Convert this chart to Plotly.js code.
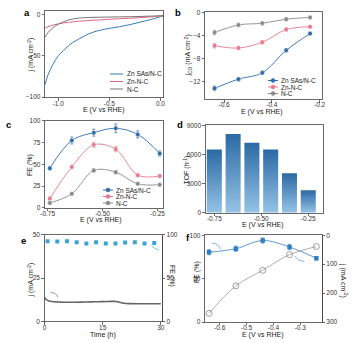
<!DOCTYPE html>
<html><head><meta charset="utf-8">
<script src="https://cdn.plot.ly/plotly-3.0.1.min.js"></script>
<style>html,body{margin:0;padding:0;background:#fff;}#chart{width:355px;height:343px;}</style>
</head><body><div id="chart"></div>
<script>
// ---------- data ----------
const seriesNames = ['Zn SAs/N-C', 'Zn-N-C', 'N-C'];
// panel a: LSV
const E_a = [-1.13,-1.10,-1.05,-1.00,-0.95,-0.90,-0.85,-0.80,-0.70,-0.60,-0.50,-0.40,-0.30,-0.20,-0.10,0.00,0.03];
const jA_sas = [-85,-73,-60,-50,-44,-38,-33.5,-30,-23.5,-19.5,-17,-15,-12.5,-9.5,-6.5,-3,-2];
const jA_znnc = [-16.5,-15,-13,-11.5,-10.5,-9.7,-9,-8.4,-7.5,-6.8,-6,-5.3,-4.8,-4,-3.2,-2.2,-1.8];
const jA_nc = [-27.5,-22,-16,-12,-9,-6.8,-5.5,-4.6,-3.8,-3.5,-3.3,-3.1,-2.9,-2.6,-2.2,-1.6,-1.3];
// panel b: jCO
const E_b = [-0.64,-0.54,-0.44,-0.34,-0.24];
const jco_sas = [-13.2,-11.6,-10.5,-6.6,-3.7];
const jco_znnc = [-5.8,-6.2,-5.2,-3.0,-2.5];
const jco_nc = [-3.5,-2.2,-1.9,-1.2,-0.9];
const jco_err = [0.4,0.3,0.3,0.3,0.2];
// panel c: FE
const E_c = [-0.74,-0.64,-0.54,-0.44,-0.34,-0.24];
const fe_sas = [45.5,77.5,86.5,91.5,84.5,62.5];
const fe_znnc = [10.5,47,72.5,67.5,37.5,36.5];
const fe_nc = [5.5,16,43,41,27.5,26.5];
const fe_err_sas = [2,4,4,5,4,3];
const fe_err_znnc = [2,2,3,3,2,2];
const fe_err_nc = [1,1,2,2,1,1];
// panel d: TOF
const E_d = [-0.75,-0.65,-0.55,-0.45,-0.35,-0.25];
const tof = [6500,8100,7200,6500,4050,2300];
// panel e: stability
const t_e = [0,0.3,0.7,1,1.5,2,3,4,5,6,8,10,12,14,16,17,18,18.5,19,19.5,20,20.5,21,22,24,26,28,30];
const j_e = [14,13,12.3,12,11.7,11.5,11.3,11.2,11.1,11.1,11.1,11.2,11.3,11.4,11.5,11.6,11.6,11.5,11.3,11,10.7,10.5,10.4,10.3,10.2,10.2,10.2,10.2];
const tFE_e = [0.8,3.3,5.8,8.3,10.8,13.3,15.8,18.3,20.8,23.3,25.8,28.3];
const FE_e = [92.5,92.3,92.5,91.2,89.8,91.3,90,89.8,91,91.2,90,90.4];
// panel f
const E_f = [-0.64,-0.54,-0.44,-0.34,-0.24];
const FE_f = [80.5,84.5,94,86.5,73.5];
const FE_f_err = [3,3,3,3,2];
const j_f = [270,175,121,67,39];

// ---------- styles ----------
const F = 'Liberation Sans, Arial, sans-serif';
const W = 355, H = 343;
const px = v => v / W, py = v => 1 - v / H;
const colA = ['#3C7BB6', '#E2677E', '#757575'];
const colB = ['#2E6BAA', '#E8798C', '#8A8A8A'];

const axBase = {showline:true, linecolor:'#444', linewidth:0.8, mirror:true, ticks:'outside', ticklen:2.5,
  tickwidth:0.8, tickcolor:'#444', showgrid:false, zeroline:false, fixedrange:true,
  tickfont:{size:6.5, color:'#333', family:F}};
const ax = o => Object.assign({}, axBase, o);
const xax = o => Object.assign({}, axBase, {ticklabelstandoff:-3}, o);

const traces = [];
// a
[jA_sas, jA_znnc, jA_nc].forEach((ys, i) => traces.push({x:E_a, y:ys, xaxis:'x', yaxis:'y', mode:'lines',
  line:{color:colA[i], width:1, shape:'spline', smoothing:1}, hoverinfo:'skip'}));
// b
[jco_sas, jco_znnc, jco_nc].forEach((ys, i) => traces.push({x:E_b, y:ys, xaxis:'x2', yaxis:'y2', mode:'lines+markers',
  line:{color:colB[i], width:0.9, shape:'spline', smoothing:1}, marker:{size:4.5, color:colB[i], line:{color:'#fff', width:0.4}},
  error_y:{type:'data', array:jco_err, color:colB[i], thickness:0.7, width:1.5}, hoverinfo:'skip'}));
// c
const feErr = [fe_err_sas, fe_err_znnc, fe_err_nc];
[fe_sas, fe_znnc, fe_nc].forEach((ys, i) => traces.push({x:E_c, y:ys, xaxis:'x3', yaxis:'y3', mode:'lines+markers',
  line:{color:colB[i], width:0.9, shape:'spline', smoothing:1}, marker:{size:4.5, color:colB[i], line:{color:'#fff', width:0.4}},
  error_y:{type:'data', array:feErr[i], color:colB[i], thickness:0.7, width:1.5}, hoverinfo:'skip'}));
// d bars (gradient filled)
const bw = 0.08;
E_d.forEach((c, i) => traces.push({x:[c-bw/2, c-bw/2, c+bw/2, c+bw/2, c-bw/2], y:[0, tof[i], tof[i], 0, 0],
  xaxis:'x4', yaxis:'y4', mode:'lines', fill:'toself', line:{width:0, color:'rgba(0,0,0,0)'},
  fillgradient:{type:'vertical', colorscale:[[0,'#95C3E5'],[1,'#2B69A5']]}, hoverinfo:'skip'}));
// e
traces.push({x:t_e, y:j_e, xaxis:'x5', yaxis:'y5', mode:'lines', line:{color:'#666', width:1.6, shape:'spline'}, hoverinfo:'skip'});
traces.push({x:tFE_e, y:FE_e, xaxis:'x5', yaxis:'y6', mode:'markers', marker:{symbol:'square', size:4, color:'#3BA3D3'}, hoverinfo:'skip'});
// f
traces.push({x:E_f, y:FE_f, xaxis:'x6', yaxis:'y7', mode:'lines+markers', line:{color:'#4A90C8', width:0.9, shape:'spline', smoothing:1},
  marker:{symbol:'square', size:4.5, color:'#2F7FC1'}, error_y:{type:'data', array:FE_f_err, color:'#2F7FC1', thickness:0.7, width:1.5}, hoverinfo:'skip'});
traces.push({x:E_f, y:j_f, xaxis:'x6', yaxis:'y8', mode:'lines+markers', line:{color:'#999', width:0.8, shape:'spline', smoothing:1},
  marker:{symbol:'circle-open', size:6, color:'#888', line:{width:0.8}}, hoverinfo:'skip'});

// ---------- annotations & shapes ----------
const ann = [], shapes = [];
const txt = (x, y, t, o) => ann.push(Object.assign({xref:'paper', yref:'paper', x:px(x), y:py(y), text:t, showarrow:false,
  font:{size:7, color:'#222', family:F}, xanchor:'center', yanchor:'middle'}, o || {}));
// panel letters
[['a',27,13],['b',178,13],['c',8,124],['d',180,125],['e',23,240],['f',187.5,237]].forEach(p =>
  txt(p[1], p[2], '<b>' + p[0] + '</b>', {font:{size:9.5, color:'#000', family:F}}));
// axis titles
txt(104, 109.5, 'E (V vs RHE)');
txt(31.5, 55, 'j (mA cm<sup>-2</sup>)', {textangle:-90});
txt(262, 112, 'E (V vs RHE)');
txt(188.5, 55, 'j<sub>CO</sub> (mA cm<sup>-2</sup>)', {textangle:-90});
txt(101, 220, 'E (V vs RHE)');
txt(30, 165, 'FE (%)', {textangle:-90});
txt(263, 225, 'E (V vs RHE)');
txt(186.5, 170, 'TOF (h<sup>-1</sup>)', {textangle:-90});
txt(103, 334.5, 'Time (h)');
txt(30.5, 280, 'j (mA cm<sup>-2</sup>)', {textangle:-90});
txt(172, 276, 'FE (%)', {textangle:90});
txt(263, 335, 'E (V vs RHE)');
txt(197, 272, 'FE (%)', {textangle:-90});
txt(344, 280, 'j (mA cm<sup>-2</sup>)', {textangle:90});
// manual legends
const legend = (x0, x1, xt, rows, cols, withMarker) => rows.forEach((ry, i) => {
  shapes.push({type:'line', xref:'paper', yref:'paper', x0:px(x0), x1:px(x1), y0:py(ry), y1:py(ry), line:{color:cols[i], width:1}});
  if (withMarker) shapes.push({type:'circle', xref:'paper', yref:'paper', xsizemode:'pixel', ysizemode:'pixel',
    xanchor:px((x0+x1)/2), yanchor:py(ry), x0:-2, x1:2, y0:-2, y1:2, fillcolor:cols[i], line:{color:cols[i], width:0.5}});
  txt(xt, ry, seriesNames[i], {xanchor:'left', font:{size:6.5, color:'#222', family:F}});
});
legend(110, 123, 124.5, [74, 81.5, 89], colA, false);
legend(268, 278, 279, [80.5, 87, 93.5], colB, true);
legend(103, 113, 114, [190, 196.5, 203], colB, true);
// small curved pointer arrows
shapes.push({type:'path', xref:'x5', yref:'y5', path:'M 1.6 16.8 Q 3.2 16.5 3.4 14', line:{color:'#666', width:0.7}});
shapes.push({type:'path', xref:'x5', yref:'y6', path:'M 27.6 88 Q 28 84 29.6 82.5', line:{color:'#3BA3D3', width:0.7}});
shapes.push({type:'path', xref:'x6', yref:'y7', path:'M -0.63 91 Q -0.605 91 -0.597 84', line:{color:'#4A90C8', width:0.7}});
shapes.push({type:'path', xref:'x6', yref:'y8', path:'M -0.32 72 Q -0.31 88 -0.285 90', line:{color:'#4A90C8', width:0.7}});

const layout = {
  width:W, height:H, margin:{l:0, r:0, t:0, b:0}, paper_bgcolor:'#fff', plot_bgcolor:'rgba(0,0,0,0)',
  showlegend:false, font:{family:F, size:7, color:'#222'},
  xaxis: xax({domain:[px(45),px(163.5)], range:[-1.13,0.03], tickvals:[-1,-0.5,0], ticktext:['-1.0','-0.5','0.0'], anchor:'y'}),
  yaxis: ax({domain:[py(97.5),py(11)], range:[-100.5,4], tickvals:[-100,-50,0], anchor:'x'}),
  xaxis2: xax({domain:[px(205),px(322)], range:[-0.68,-0.19], tickvals:[-0.6,-0.4,-0.2], ticktext:['-0.6','-0.4','-0.2'], anchor:'y2'}),
  yaxis2: ax({domain:[py(99.3),py(11.7)], range:[-15.1,0.1], tickvals:[-12,-8,-4,0], anchor:'x2'}),
  xaxis3: xax({domain:[px(45),px(163)], range:[-0.762,-0.225], tickvals:[-0.75,-0.5,-0.25], ticktext:['-0.75','-0.50','-0.25'], anchor:'y3'}),
  yaxis3: ax({domain:[py(207.7),py(120.5)], range:[0,100.5], tickvals:[0,25,50,75,100], anchor:'x3'}),
  xaxis4: xax({domain:[px(205.7),px(322.7)], range:[-0.796,-0.173], tickvals:[-0.75,-0.5,-0.25], ticktext:['-0.75','-0.50','-0.25'], anchor:'y4'}),
  yaxis4: ax({domain:[py(212.7),py(125.3)], range:[0,9000], tickvals:[0,3000,6000,9000], anchor:'x4'}),
  xaxis5: xax({domain:[px(44.5),px(162)], range:[0,30.3], tickvals:[0,15,30], anchor:'y5'}),
  yaxis5: ax({domain:[py(321.5),py(234.7)], range:[0,50], tickvals:[0,25,50], anchor:'x5'}),
  yaxis6: ax({overlaying:'y5', side:'right', range:[0,100], tickvals:[0,50,100], anchor:'x5', mirror:false}),
  xaxis6: xax({domain:[px(205),px(321.7)], range:[-0.655,-0.22], tickvals:[-0.6,-0.5,-0.4,-0.3], ticktext:['-0.6','-0.5','-0.4','-0.3'], anchor:'y7'}),
  yaxis7: ax({domain:[py(322),py(235.3)], range:[0,100], tickvals:[0,50,100], anchor:'x6'}),
  yaxis8: ax({overlaying:'y7', side:'right', range:[300,0], tickvals:[0,100,200,300], anchor:'x6', mirror:false}),
  annotations: ann, shapes: shapes
};
Plotly.newPlot('chart', traces, layout, {staticPlot:true, displayModeBar:false});
</script></body></html>
